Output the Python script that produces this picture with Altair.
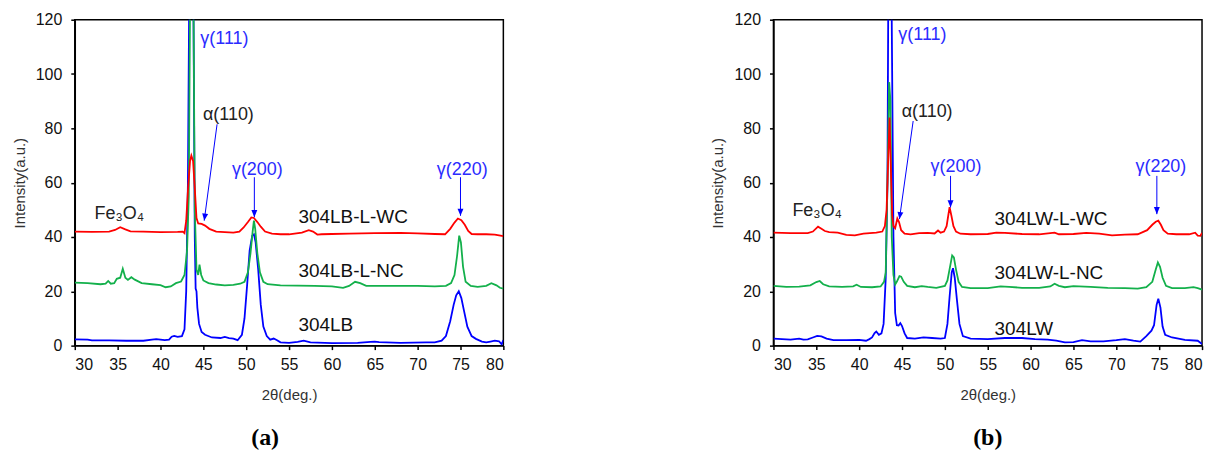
import altair as alt
import pandas as pd

# ---------------- data ----------------
X_TICKS = [30, 35, 40, 45, 50, 55, 60, 65, 70, 75, 80]
Y_TICKS = [0, 20, 40, 60, 80, 100, 120]

# Panel (a)
LB_304 = [(30, 2.3), (31.5, 2.2), (32, 1.9), (34, 1.9), (36, 1.8), (38, 1.8), (39, 2.2), (39.5, 2.4),
          (40, 2.2), (40.5, 2.0), (41, 2.2), (41.3, 3.3), (41.6, 3.6), (42, 3.2), (42.5, 3.5), (42.8, 6),
          (43.0, 20), (43.2, 60), (43.4, 150), (43.6, 300), (43.8, 150), (44.0, 40), (44.1, 21), (44.2, 20),
          (44.3, 14), (44.5, 8), (44.8, 5), (45.2, 4), (46, 3), (47, 2.8), (47.5, 3.2), (48, 2.8), (48.5, 2.6),
          (49, 2.0), (49.5, 4), (49.8, 10), (50.1, 22), (50.4, 35), (50.7, 40.5), (50.9, 41), (51.1, 38),
          (51.4, 28), (51.7, 15), (52.0, 7), (52.4, 3.5), (52.8, 2.2), (53.2, 2.6), (53.6, 2.0), (54, 1.2),
          (55, 1.0), (56, 1.4), (56.7, 1.8), (57.5, 1.2), (60, 0.9), (63, 1.0), (64.5, 1.4), (65, 1.5),
          (65.5, 1.3), (68, 1.0), (71, 1.2), (72, 1.2), (72.8, 1.8), (73.3, 3.5), (73.8, 9), (74.2, 15),
          (74.5, 18.5), (74.8, 20), (75.1, 17.5), (75.4, 13), (75.8, 7), (76.3, 3.5), (76.8, 2.5), (77.5, 1.5),
          (78, 1.2), (78.5, 1.5), (79, 1.8), (79.5, 1.6), (79.8, 0.5), (80, 2.0)]
LB_304_NC = [(30, 23.2), (31.5, 23), (33, 22.6), (33.6, 22.8), (33.9, 23.8), (34.2, 22.8), (34.6, 23),
             (34.9, 24.6), (35.3, 25), (35.6, 28.3), (35.9, 25), (36.2, 24.2), (36.6, 25.2), (37, 24.3),
             (37.8, 23), (39, 22.6), (40, 22.3), (40.6, 21.5), (41.2, 21.8), (41.8, 23), (42.4, 23.6),
             (42.8, 26), (43.1, 35), (43.3, 55), (43.5, 150), (43.65, 300), (43.8, 150), (44.0, 50), (44.2, 28),
             (44.4, 26), (44.55, 29.8), (44.75, 26), (45.0, 24), (45.6, 23), (46.5, 22.5), (47.5, 22.2),
             (48.5, 22.4), (49.3, 22.8), (49.8, 23.5), (50.2, 27), (50.5, 34), (50.75, 42), (50.9, 46),
             (51.05, 43), (51.3, 34), (51.6, 27), (52.0, 23.5), (52.5, 22.6), (54, 22.2), (56, 22.1), (58, 22),
             (60, 21.8), (61.3, 21.3), (62, 22), (62.7, 23.5), (63.3, 23), (64, 22), (66, 22), (68, 22), (70, 22),
             (72, 21.8), (73.3, 22), (73.9, 23), (74.3, 26), (74.6, 33), (74.85, 40.5), (75.05, 38), (75.3, 29),
             (75.6, 23.5), (76.2, 22), (77, 21.6), (78, 22), (78.6, 23), (79.2, 22.2), (79.6, 21.3), (80, 21)]
LB_304_WC = [(30, 42), (32, 41.9), (34, 42), (34.7, 42.6), (35.3, 43.6), (35.9, 42.8), (36.5, 42.1), (38, 42),
             (40, 41.8), (42, 41.9), (42.6, 42), (42.8, 41.4), (43.0, 46), (43.2, 57), (43.45, 68), (43.6, 70),
             (43.8, 68), (44.0, 58), (44.2, 47), (44.4, 45), (44.8, 44.8), (45.2, 44.2), (45.7, 43), (46.5, 42),
             (47.5, 41.8), (48.5, 41.6), (49.2, 42), (49.7, 43.5), (50.2, 45.5), (50.6, 47.2), (50.9, 47),
             (51.3, 45.5), (51.7, 43.8), (52.2, 42), (53, 41.2), (54, 41), (55, 41), (56.5, 41.6), (57.3, 42.5),
             (57.8, 42), (58.3, 40.9), (58.8, 41), (60, 41.1), (62, 41.2), (65, 41.4), (68, 41.5), (70, 41.3),
             (72, 41.1), (73.2, 41), (73.8, 43), (74.3, 45.3), (74.7, 46.8), (75.1, 46.2), (75.5, 44.5),
             (75.9, 42.2), (76.3, 41.1), (77, 41), (78, 41), (79, 40.9), (80, 40.3)]

# Panel (b)
LW_304 = [(30, 2.6), (31, 2.4), (32, 2.2), (33, 2.6), (33.5, 2.2), (34, 2.3), (34.6, 3), (35.1, 3.6),
          (35.6, 3.4), (36.2, 2.6), (37, 2), (38.5, 2), (40, 2.1), (40.8, 1.8), (41.2, 2.4), (41.5, 3),
          (41.8, 4.6), (42.0, 5.2), (42.3, 4), (42.6, 4.5), (42.85, 8), (43.1, 25), (43.3, 60), (43.5, 200),
          (43.65, 300), (43.8, 120), (44.0, 40), (44.2, 12), (44.4, 7.5), (44.6, 7.4), (44.8, 8.3), (45.0, 7.2),
          (45.3, 4.5), (45.6, 2.8), (46.5, 2.6), (47.5, 3), (48.5, 2.8), (49.5, 2.6), (50.0, 2.8), (50.3, 8),
          (50.55, 18), (50.8, 27), (50.95, 28.5), (51.15, 25), (51.4, 17), (51.7, 8), (52.1, 3.5), (53, 2.6),
          (55, 2.4), (57, 2.8), (59, 2.8), (60.5, 2.4), (62, 2.2), (63, 1.8), (64, 1.2), (65, 1.3), (66, 2),
          (67, 1.6), (68.5, 1.6), (70, 2), (71, 2.4), (72, 1.8), (72.8, 1.5), (73.5, 3.5), (74.1, 5.5),
          (74.4, 7.5), (74.7, 15), (74.9, 17.3), (75.15, 14), (75.4, 7), (75.7, 4), (76.5, 3), (78, 2.1),
          (79.5, 1.8), (80, 0.6)]
LW_304_NC = [(30, 22), (31.5, 21.6), (33, 21.7), (34.3, 22.2), (35.0, 23.4), (35.4, 23.8), (35.8, 22.6),
             (36.5, 21.8), (38, 21.6), (39.3, 21.8), (39.7, 22.4), (40.2, 21.6), (41.5, 21.5), (42.5, 21.8),
             (42.9, 23.5), (43.1, 27), (43.3, 60), (43.5, 97), (43.65, 90), (43.8, 40), (44.0, 26), (44.2, 22.5),
             (44.4, 23.6), (44.7, 25.6), (44.9, 25.4), (45.2, 23.5), (45.6, 22), (46.5, 21.5), (47.3, 21.9),
             (48, 21.6), (49, 21.3), (50, 22), (50.3, 24), (50.6, 29), (50.85, 33.2), (51.05, 32.5), (51.3, 28),
             (51.6, 23.5), (52, 21.6), (53, 21.2), (55, 21.2), (56.5, 21.8), (57.5, 21.6), (59, 21.3), (61, 21.3),
             (62.3, 21.8), (62.8, 22.8), (63.3, 22), (64, 21.5), (65, 21.9), (67, 21.6), (69, 21.3), (71, 21.2),
             (72.5, 21), (73.5, 21.5), (74.2, 23.5), (74.6, 28), (74.85, 30.6), (75.1, 29), (75.4, 25),
             (75.8, 22), (76.5, 21.2), (78, 21.2), (79, 21.5), (79.5, 21.2), (80, 20.6)]
LW_304_WC = [(30, 41.6), (32, 41.4), (34, 41.4), (34.6, 42), (35.2, 43.8), (35.6, 43), (36, 42.2), (36.5, 41.8),
             (37.5, 41.6), (38.5, 40.8), (39.5, 40.6), (40.5, 41.2), (42, 41.6), (42.7, 42), (43.0, 44),
             (43.2, 50), (43.4, 70), (43.55, 84), (43.7, 65), (43.85, 48), (44.0, 44), (44.2, 43.2),
             (44.45, 46.8), (44.65, 45.5), (44.9, 42.5), (45.3, 41.2), (46, 41), (47, 41.4), (48, 41.5),
             (48.8, 41.3), (49.2, 42.4), (49.5, 41.6), (49.9, 42), (50.2, 44), (50.4, 48), (50.55, 51),
             (50.75, 48), (51.0, 44), (51.3, 42), (51.8, 41.2), (53, 41), (55, 41.1), (56, 41.6), (57, 41.5),
             (59, 41.1), (61, 41), (62.8, 41.6), (63.3, 41), (65, 41.1), (66.5, 41.5), (68, 41.2), (69.5, 40.6),
             (71, 40.9), (72.5, 41), (73.6, 42.5), (74.2, 44.5), (74.6, 45.6), (74.9, 46), (75.2, 44.5),
             (75.5, 42.5), (76, 41.2), (77, 41), (78.5, 41), (79.2, 41.6), (79.5, 40.5), (79.8, 40.4), (80, 41.5)]

# annotations: (text, x, y, color, align, font size)
LABELS_A = [("γ(111)", 44.65, 113.0, "#2b2bff", "left", 18),
            ("α(110)", 44.95, 85.0, "#222222", "left", 18),
            ("γ(200)", 51.3, 64.7, "#2b2bff", "center", 18),
            ("γ(220)", 75.2, 64.7, "#2b2bff", "center", 18),
            ("Fe₃O₄", 35.2, 48.4, "#222222", "center", 18),
            ("304LB-L-WC", 56.1, 47.3, "#111111", "left", 19),
            ("304LB-L-NC", 56.1, 27.6, "#111111", "left", 19),
            ("304LB", 56.1, 7.7, "#111111", "left", 19)]
LABELS_B = [("γ(111)", 44.57, 114.3, "#2b2bff", "left", 18),
            ("α(110)", 44.96, 86.0, "#222222", "left", 18),
            ("γ(200)", 51.3, 65.7, "#2b2bff", "center", 18),
            ("γ(220)", 75.2, 65.7, "#2b2bff", "center", 18),
            ("Fe₃O₄", 35.1, 49.7, "#222222", "center", 18),
            ("304LW-L-WC", 55.8, 46.6, "#111111", "left", 19),
            ("304LW-L-NC", 55.8, 26.8, "#111111", "left", 19),
            ("304LW", 55.8, 6.2, "#111111", "left", 19)]

# arrows: (x_start, y_start, x_end, y_end, head angle)
ARROWS_A = [(46.6, 81.5, 45.1, 46.0, 8), (50.95, 62.0, 50.95, 47.3, 0), (75.0, 62.0, 75.0, 47.8, 0)]
ARROWS_B = [(46.3, 82.7, 44.7, 46.6, 8), (50.66, 62.5, 50.66, 50.9, 0), (74.73, 62.5, 74.73, 48.4, 0)]

BLUE, GREEN, RED = "#0000ff", "#13b04b", "#ff0000"
FONT = "Liberation Sans"

W, H = 430, 327

x_enc = alt.X("x:Q", scale=alt.Scale(domain=[30, 80], nice=False, zero=False),
              axis=alt.Axis(values=X_TICKS, title="2θ(deg.)", grid=False, tickSize=4,
                            labelPadding=7, titlePadding=15))
y_enc = alt.Y("y:Q", scale=alt.Scale(domain=[0, 120], nice=False),
              axis=alt.Axis(values=Y_TICKS, title="Intensity(a.u.)", grid=False, tickSize=4,
                            labelPadding=9, titlePadding=8))


def line_layer(points, color):
    df = pd.DataFrame(points, columns=["x", "y"])
    return alt.Chart(df).mark_line(color=color, strokeWidth=1.8, clip=True).encode(x=x_enc, y=y_enc)


def panel(blue, green, red, labels, arrows, tag, dx):
    lines = line_layer(blue, BLUE) + line_layer(green, GREEN) + line_layer(red, RED)
    tdf = pd.DataFrame(labels, columns=["text", "x", "y", "color", "align", "size"])
    texts = []
    for al in ["left", "center"]:
        sub = tdf[tdf["align"] == al]
        texts.append(alt.Chart(sub).mark_text(align=al, baseline="middle", font=FONT).encode(
            x=x_enc, y=y_enc, text="text:N", color=alt.Color("color:N", scale=None),
            size=alt.Size("size:Q", scale=None)))
    adf = pd.DataFrame(arrows, columns=["x", "y", "x2", "y2", "angle"])
    shafts = alt.Chart(adf).mark_rule(color=BLUE, strokeWidth=1).encode(
        x=x_enc, y=y_enc, x2="x2:Q", y2="y2:Q")
    heads = alt.Chart(adf).mark_point(shape="M0,0L-0.42,-1L0.42,-1Z", filled=True, color=BLUE,
                                      size=200, opacity=1).encode(
        x=alt.X("x2:Q", scale=alt.Scale(domain=[30, 80], nice=False, zero=False)),
        y=alt.Y("y2:Q", scale=alt.Scale(domain=[0, 120], nice=False)),
        angle=alt.Angle("angle:Q", scale=None))
    return alt.layer(lines, *texts, shafts, heads).properties(
        width=W, height=H,
        title=alt.TitleParams(tag, orient="bottom", anchor="middle", dx=dx, offset=24,
                              font="Liberation Serif", fontSize=24, fontWeight="bold", color="black"))


pa = panel(LB_304, LB_304_NC, LB_304_WC, LABELS_A, ARROWS_A, "(a)", -24)
pb = panel(LW_304, LW_304_NC, LW_304_WC, LABELS_B, ARROWS_B, "(b)", 0)

chart = alt.hconcat(pa, pb, spacing=271, bounds="flush").configure_view(
    stroke="black", strokeWidth=1.5
).configure_axis(
    domainColor="black", domainWidth=1.5, tickColor="black", tickWidth=1.5,
    labelFont=FONT, labelFontSize=16, labelColor="#111111",
    titleFont=FONT, titleFontSize=15, titleFontWeight="normal", titleColor="#333333"
).properties(background="white", padding={"left": 3, "top": 2, "right": 5, "bottom": 5})

chart.save("out.html", embed_options={"renderer": "svg", "actions": False})
